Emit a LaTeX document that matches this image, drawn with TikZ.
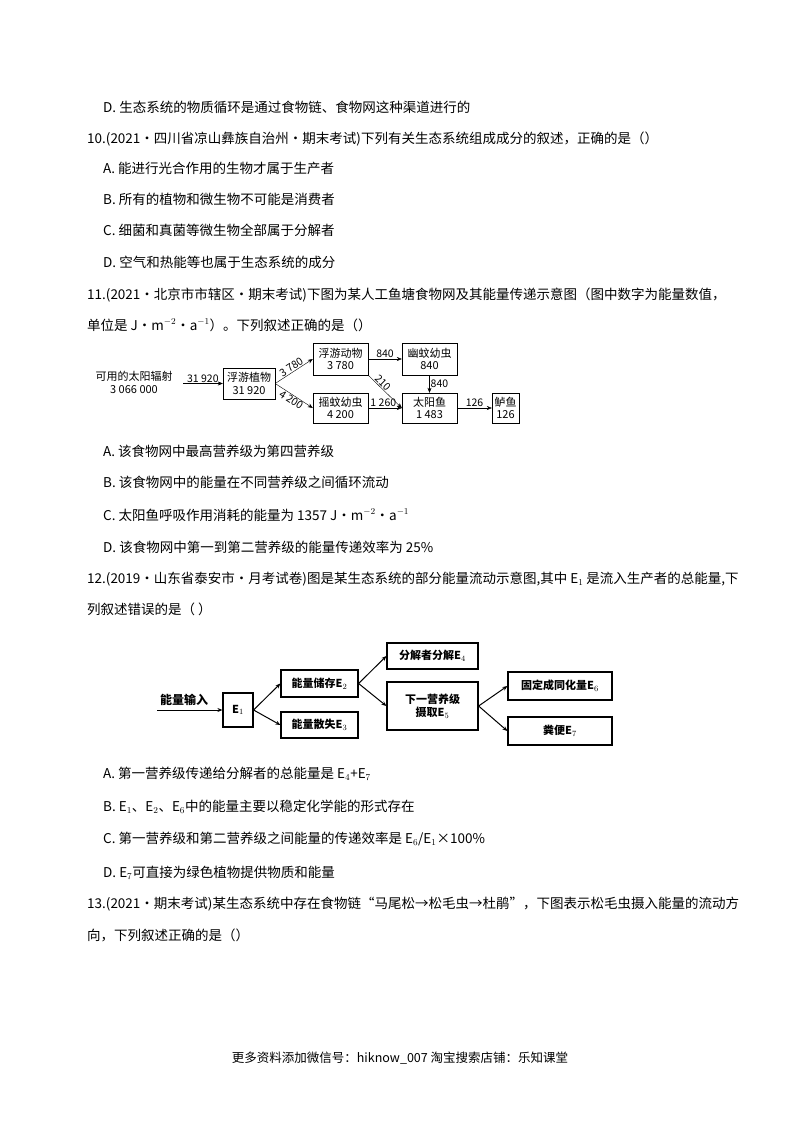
\documentclass[tikz,border=0pt]{standalone}
\usepackage{fontspec}
\setmainfont{Noto Sans CJK SC}
\usetikzlibrary{arrows.meta}
\begin{document}
\begin{tikzpicture}[x=1pt,y=-1pt,
  txt/.style={anchor=base west,inner sep=0,font=\fontsize{13.5}{15}\selectfont},
  bx/.style={draw,thin,align=center,inner sep=0,font=\fontsize{11}{12.5}\selectfont},
  bb/.style={draw,line width=1.2pt,align=center,inner sep=0,font=\bfseries\fontsize{11}{13}\selectfont},
  lab/.style={font=\fontsize{10.5}{12}\selectfont,inner sep=1pt},
  ar/.style={-{Stealth[length=5pt,width=4pt]},thin},
  ar2/.style={-{Stealth[length=5pt,width=4pt]},line width=1pt}]
\useasboundingbox (0,0) rectangle (800,1132);
\node[txt] (t1) at (103,112) {D. 生态系统的物质循环是通过食物链、食物网这种渠道进行的};
\node[txt] (t2) at (87,143) {10.(2021·四川省凉山彝族自治州·期末考试)下列有关生态系统组成成分的叙述，正确的是（）};
\node[txt] (t3) at (103,173) {A. 能进行光合作用的生物才属于生产者};
\node[txt] (t4) at (103,204) {B. 所有的植物和微生物不可能是消费者};
\node[txt] (t5) at (103,235) {C. 细菌和真菌等微生物全部属于分解者};
\node[txt] (t6) at (103,267) {D. 空气和热能等也属于生态系统的成分};
\node[txt] (t7) at (87,299) {11.(2021·北京市市辖区·期末考试)下图为某人工鱼塘食物网及其能量传递示意图（图中数字为能量数值，};
\node[txt] (t8) at (87,330) {单位是 J·m$^{-2}$·a$^{-1}$）。下列叙述正确的是（）};
% diagram 1
\node[lab,align=center,font=\fontsize{11}{13}\selectfont] (sun) at (134,382) {可用的太阳辐射\\3 066 000};
\node[bx,minimum width=52pt,minimum height=31pt] (fy) at (249,383.5) {浮游植物\\31 920};
\node[bx,minimum width=55pt,minimum height=32pt] (fd) at (340.5,359) {浮游动物\\3 780};
\node[bx,minimum width=55pt,minimum height=32pt] (ym) at (429.5,359) {幽蚊幼虫\\840};
\node[bx,minimum width=55pt,minimum height=30pt] (yw) at (340.5,408) {摇蚊幼虫\\4 200};
\node[bx,minimum width=55pt,minimum height=30pt] (ty) at (429.5,408) {太阳鱼\\1 483};
\node[bx,minimum width=27pt,minimum height=30pt] (ly) at (505.5,408) {鲈鱼\\126};
\coordinate (s0) at (183,383.5);
\draw[ar] (s0) -- node[lab,above] {31 920} (fy.west);
\draw[ar] (fy.east) -- node[lab,above,sloped] {3 780} (fd.west);
\draw[ar] (fy.east) -- node[lab,below,sloped] {4 200} (yw.west);
\draw[ar] (fd.east) -- node[lab,above] {840} (ym.west);
\draw[ar] (fd.south east) -- node[lab,above,sloped,pos=0.35] {210} (ty.west);
\draw[ar] (yw.east) -- node[lab,above,pos=0.45] {1 260} (ty.west);
\draw[ar] (ym.south) -- node[lab,right] {840} (ty.north);
\draw[ar] (ty.east) -- node[lab,above] {126} (ly.west);
% text
\node[txt] (a1) at (103,456) {A. 该食物网中最高营养级为第四营养级};
\node[txt] (a2) at (103,487) {B. 该食物网中的能量在不同营养级之间循环流动};
\node[txt] (a3) at (103,520) {C. 太阳鱼呼吸作用消耗的能量为 1357 J·m$^{-2}$·a$^{-1}$};
\node[txt] (a4) at (103,552) {D. 该食物网中第一到第二营养级的能量传递效率为 25\%};
\node[txt] (a5) at (87,583) {12.(2019·山东省泰安市·月考试卷)图是某生态系统的部分能量流动示意图,其中 E$_1$ 是流入生产者的总能量,下};
\node[txt] (a6) at (87,614) {列叙述错误的是（ ）};
% diagram 2
\node[font=\bfseries\fontsize{12}{13}\selectfont,anchor=base west,inner sep=0] (inp) at (160,704) {能量输入};
\node[bb,minimum width=30pt,minimum height=34pt] (e1) at (238,710) {E$_1$};
\node[bb,minimum width=77pt,minimum height=27pt] (e2) at (319.5,683.5) {能量储存E$_2$};
\node[bb,minimum width=77pt,minimum height=26pt] (e3) at (319.5,725) {能量散失E$_3$};
\node[bb,minimum width=91pt,minimum height=26pt] (e4) at (432.5,656) {分解者分解E$_4$};
\node[bb,minimum width=91pt,minimum height=48pt] (e5) at (432.5,706) {下一营养级\\摄取E$_5$};
\node[bb,minimum width=104pt,minimum height=28pt] (e6) at (560,686) {固定成同化量E$_6$};
\node[bb,minimum width=104pt,minimum height=28pt] (e7) at (560,731) {粪便E$_7$};
\coordinate (i0) at (157,710);
\draw[ar2] (i0) -- (e1.west);
\draw[ar2] (e1.east) -- (e2.west);
\draw[ar2] (e1.east) -- (e3.west);
\draw[ar2] (e2.east) -- (e4.west);
\draw[ar2] (e2.east) -- (e5.west);
\draw[ar2] (e5.east) -- (e6.west);
\draw[ar2] (e5.east) -- (e7.west);
% text
\node[txt] (b1) at (103,778) {A. 第一营养级传递给分解者的总能量是 E$_4$+E$_7$};
\node[txt] (b2) at (103,811) {B. E$_1$、E$_2$、E$_6$中的能量主要以稳定化学能的形式存在};
\node[txt] (b3) at (103,843) {C. 第一营养级和第二营养级之间能量的传递效率是 E$_6$/E$_1$×100\%};
\node[txt] (b4) at (103,877) {D. E$_7$可直接为绿色植物提供物质和能量};
\node[txt] (b5) at (87,908) {13.(2021·期末考试)某生态系统中存在食物链“马尾松→松毛虫→杜鹃”，下图表示松毛虫摄入能量的流动方};
\node[txt] (b6) at (87,940) {向，下列叙述正确的是（）};
\node[anchor=base,inner sep=0,font=\fontsize{12.5}{14}\selectfont] (ft) at (400,1062) {更多资料添加微信号：hiknow\_007 淘宝搜索店铺：乐知课堂};
\end{tikzpicture}
\end{document}
